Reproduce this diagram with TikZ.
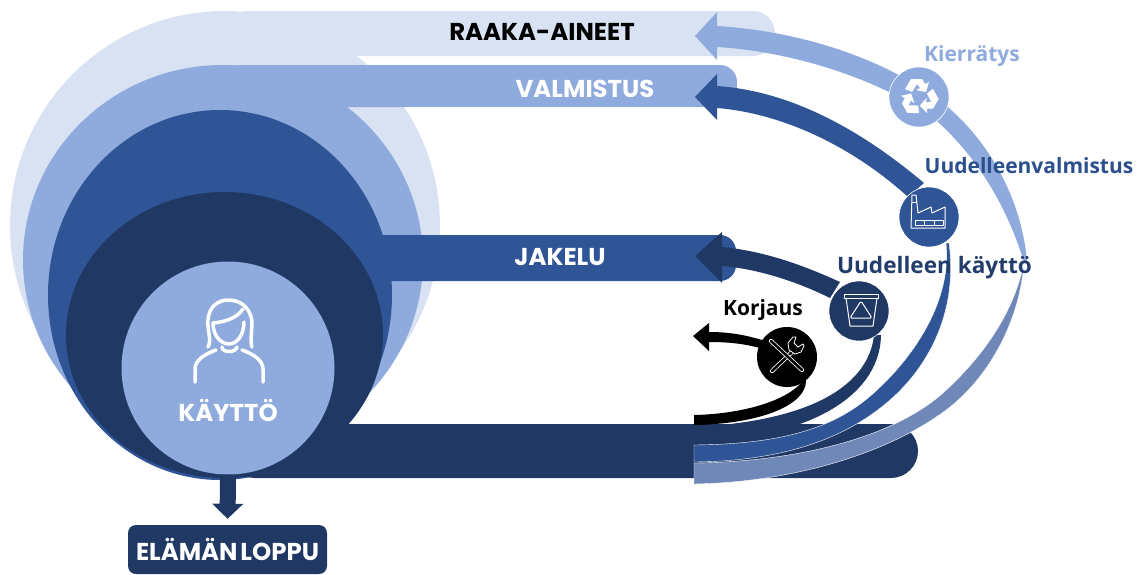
\documentclass[tikz,border=0pt]{standalone}
\usepackage{fontspec}
\setmainfont{Open Sans}
\newfontfamily\barfont{Poppins}
\usetikzlibrary{arrows.meta}
\usetikzlibrary{positioning}
\usepackage{xcolor}
\definecolor{raakac}{HTML}{D8E2F3}
\definecolor{valmc}{HTML}{8FAADC}
\definecolor{jakc}{HTML}{2F5597}
\definecolor{kayc}{HTML}{203864}
\definecolor{kierc}{HTML}{6F88B8}
\tikzset{
    barlabel/.style={font=\barfont\bfseries\fontsize{24.4}{28}\selectfont, inner sep=0pt},
    looplabel/.style={font=\bfseries\fontsize{21}{25}\selectfont, inner sep=0pt},
    loopcirc/.style={circle, minimum size=60pt, inner sep=0pt, draw=white, line width=0.6pt},
    icon/.style={draw=white, line width=1pt, line join=round, fill=none},
    toolline/.style={draw=white, line width=0.8pt, double=black, double distance=2.6pt, line cap=round},
    tail/.style={draw=white, line width=0.4pt}
}
\begin{document}
\begin{tikzpicture}[x=1pt, y=-1pt, >=stealth]
    \useasboundingbox[fill=white] (0,0) rectangle (1140,574);
    % stacked circles with their bars
    \fill[raakac] (225,226) circle [radius=215];
    \fill[raakac, rounded corners=22pt] (225,11) -- (775,11) -- (775,56) -- (225,56) -- cycle;
    \fill[valmc] (223,260) ellipse [x radius=200, y radius=195];
    \fill[valmc, rounded corners=17pt] (223,65) -- (737,65) -- (737,107) -- (223,107) -- cycle;
    \fill[jakc] (220,295) ellipse [x radius=172, y radius=185];
    \fill[jakc, rounded corners=16pt] (300,235) -- (736,235) -- (736,281) -- (300,281) -- cycle;
    \fill[kayc] (224.5,335) ellipse [x radius=158.5, y radius=143];
    \fill[kayc, rounded corners=27pt] (228,424) -- (918,424) -- (918,478) -- (228,478) -- cycle;
    \node[circle, fill=valmc, minimum size=213pt, inner sep=0pt] (kaytto) at (228,368) {};
    \node[fill=kayc, rounded corners=8pt, minimum width=199pt, minimum height=49pt, inner sep=0pt] (loppu) at (227.5,549.5) {};
    \draw[kayc, line width=16pt, -{Triangle[width=30pt, length=15pt]}, shorten >=6pt] (kaytto.south) -- (loppu.north);

    % recycling loop
    \fill[valmc] (717,26) .. controls (800,31) and (890,59) .. (950,109) .. controls (990,144) and (1022,200) .. (1027,262)
        -- (1024,262) .. controls (1010,217) and (985,165) .. (938,122) .. controls (890,84) and (800,52) .. (717,47) -- cycle;
    \fill[valmc] (695,36) -- (717,12) -- (717,60) -- cycle;
    \fill[kierc, tail] (1024,262) .. controls (1015,310) and (985,355) .. (943,393) .. controls (890,440) and (790,462) .. (694,463)
        -- (694,484) .. controls (800,482) and (895,450) .. (950,407) .. controls (990,375) and (1020,320) .. (1024,262) -- cycle;

    % remanufacturing loop
    \fill[jakc] (717,86) .. controls (790,91) and (860,129) .. (924,183)
        -- (908,197) .. controls (860,153) and (790,114) .. (717,108) -- cycle;
    \fill[jakc] (695,97) -- (717,74) -- (717,120) -- cycle;
    \fill[jakc, tail] (946,243) .. controls (952,300) and (915,355) .. (877,390) .. controls (840,425) and (790,444) .. (694,445)
        -- (694,462) .. controls (790,461) and (850,435) .. (890,400) .. controls (930,365) and (958,310) .. (949,243) -- cycle;

    % reuse loop
    \fill[kayc] (722,247) .. controls (765,251) and (805,266) .. (840,282)
        -- (830,298) .. controls (800,283) and (760,269) .. (722,266) -- cycle;
    \fill[kayc] (695,256) -- (722,232) -- (722,283) -- cycle;
    \fill[kayc] (874,335) .. controls (870,375) and (830,420) .. (694,427)
        -- (694,441) .. controls (800,440) and (880,400) .. (881,335) -- cycle;

    % repair loop
    \fill[black] (709,332) .. controls (730,332) and (745,335) .. (762,340)
        -- (760,348) .. controls (745,344) and (730,342) .. (709,342) -- cycle;
    \fill[black] (693,336) -- (709,323) -- (709,351) -- cycle;
    \fill[black] (694,415) .. controls (740,414) and (785,402) .. (802,382)
        -- (806,380) .. controls (807,405) and (760,424) .. (694,425) -- cycle;

    % loop circles
    \node[loopcirc, fill=valmc] (kierr) at (919,97) {};
    \node[loopcirc, fill=jakc] (tehdas) at (929,217) {};
    \node[loopcirc, fill=kayc] (roskis) at (859,311) {};
    \node[loopcirc, fill=black, draw=none] (korj) at (787,357) {};

    % recycling icon
    \foreach \ang in {0,120,240} {
        \begin{scope}[shift={(kierr.center)}, rotate=\ang]
            \fill[white] (-14,-8) -- (-8,-18) -- (3,-18) -- (6,-13) -- (10,-15) -- (7,-5) -- (-3,-7) -- (1,-9) -- (-2,-13) -- (-7,-5) -- cycle;
        \end{scope}
    }
    % factory icon
    \begin{scope}[shift={(tehdas.center)}]
        \draw[icon] (-18,11) -- (-17,-22) -- (-13,-22) -- (-11,-4) -- (2,-10) -- (3,-4) -- (16,-10) -- (16,11) -- cycle;
        \draw[icon] (-17,-15) -- (-12,-15);
        \draw[icon] (-14,3) rectangle (14,8);
        \draw[icon] (-5,3) -- (-5,8) (5,3) -- (5,8);
    \end{scope}
    % bin icon
    \begin{scope}[shift={(roskis.center)}]
        \draw[icon] (-15,-17) -- (19,-17) -- (19,-13) -- (-15,-13) -- cycle;
        \draw[icon] (-13,-13) -- (-9,15) -- (14,15) -- (18,-13);
        \draw[icon, rounded corners=1.5pt] (2,-10) -- (13,7) -- (-9,7) -- cycle;
    \end{scope}
    % tools icon
    \begin{scope}[shift={(korj.center)}]
        \draw[toolline] (-15,14) -- (5,-5);
        \draw[icon, fill=black, line width=.8pt] (2,-7) -- (1,-14) -- (6,-20) -- (9,-20) -- (7,-14) -- (11,-10) -- (16,-13) -- (17,-11) -- (14,-5) -- (8,-3) -- cycle;
        \draw[toolline] (-16,-16) -- (15,13);
    \end{scope}
    % person icon
    \begin{scope}[white, line width=3.5pt, line cap=round, line join=round]
        \draw (208,347) .. controls (212,340) and (207,330) .. (208,320) .. controls (209,305) and (220,300) .. (228,300) .. controls (238,300) and (250,305) .. (252,322) .. controls (252,330) and (250,342) .. (252,347);
        \draw (213,323) .. controls (225,322) and (237,318) .. (243,309);
        \draw (213,323) .. controls (213,337) and (222,344) .. (229,344) .. controls (237,344) and (244,335) .. (244,322);
        \draw (222,347) .. controls (222,353) and (236,353) .. (237,347);
        \draw (195,382) -- (195,369) .. controls (195,360) and (205,354) .. (216,350);
        \draw (263,382) -- (263,369) .. controls (263,360) and (253,354) .. (242,350);
    \end{scope}

    % labels
    \node[barlabel, black] (raaka) at (542,32) {RAAKA-AINEET};
    \node[barlabel, white] (valm) at (585,89) {VALMISTUS};
    \node[barlabel, white] (jakelu) at (560,257) {JAKELU};
    \node[barlabel, white] (kayt) at (228,410) {KÄYTTÖ};
    \node[barlabel, white] (lop) at (loppu.center) {\spaceskip=.12em ELÄMÄN LOPPU};
    \node[looplabel, valmc] (kierl) at (972,56) {Kierrätys};
    \node[looplabel, color=jakc!80!kayc] (uudv) at (1029,166) {Uudelleenvalmistus};
    \node[looplabel, color=kayc!85!jakc, font=\bfseries\fontsize{22.6}{26}\selectfont] (uudk) at (934.5,268) {Uudelleen käyttö};
    \node[looplabel, black] (korl) at (763,310) {Korjaus};
\end{tikzpicture}
\end{document}
